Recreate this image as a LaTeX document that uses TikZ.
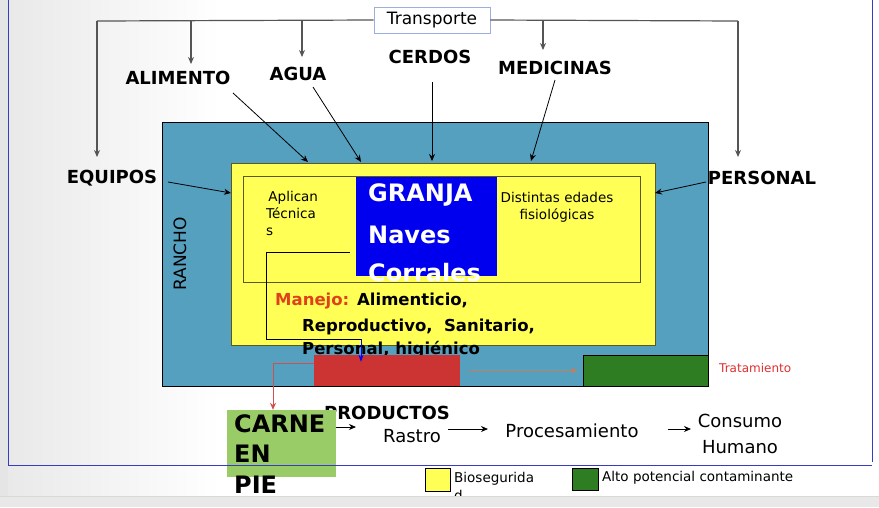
\documentclass[tikz,border=0pt]{standalone}
\usepackage{fontspec}
\setmainfont{DejaVu Sans}
\usetikzlibrary{arrows.meta}
\definecolor{ranchc}{HTML}{559FBF}
\definecolor{yelc}{HTML}{FFFF55}
\definecolor{olivec}{HTML}{5A5A20}
\definecolor{granjac}{HTML}{0000EE}
\definecolor{redc}{HTML}{CC3333}
\definecolor{greenc}{HTML}{2E7D22}
\definecolor{carnec}{HTML}{99CC66}
\definecolor{framec}{HTML}{3A3AC8}
\definecolor{manc}{HTML}{E0401A}
\definecolor{tratc}{HTML}{E03030}
\definecolor{brownc}{HTML}{C08060}
\definecolor{pinkc}{HTML}{D05050}
\definecolor{grayl}{HTML}{555555}
\begin{document}
\begin{tikzpicture}[x=1pt,y=-1pt,
  lbl/.style={font=\fontsize{18}{20}\selectfont\bfseries, inner sep=0pt},
  reg/.style={font=\fontsize{18}{22}\selectfont, inner sep=0pt},
  small/.style={font=\fontsize{13.5}{17}\selectfont, inner sep=0pt},
  big/.style={font=\fontsize{24}{30}\selectfont\bfseries, inner sep=0pt},
  man/.style={font=\fontsize{16.5}{20}\selectfont\bfseries, inner sep=0pt, anchor=base west},
  tip/.style={-{Stealth[length=7pt,width=6pt]}},
  gline/.style={draw=grayl, line width=1.2pt},
  garr/.style={gline, tip},
  karr/.style={draw=black, line width=0.8pt, tip},
  box/.style={draw=black, line width=0.8pt}
]
\useasboundingbox (0,0) rectangle (879,507);
% background
\fill[white] (0,0) rectangle (879,507);
\shade[left color=black!9, right color=white] (0,0) rectangle (220,496);
\fill[black!10] (0,0) rectangle (8,496);
% transport
\node[draw=cyan!40!blue!40, line width=0.8pt, fill=white, minimum width=116pt, minimum height=26pt, inner sep=0pt, font=\fontsize{17}{20}\selectfont] (tr) at (432,20) {Transporte};
\node[lbl] (alim) at (178,78) {ALIMENTO};
\node[lbl] (agua) at (298,74) {AGUA};
\node[lbl] (cerdos) at (430,57) {CERDOS};
\node[lbl] (medic) at (555,68) {MEDICINAS};
\node[lbl] (equip) at (112,178) {EQUIPOS};
\node[lbl] (perso) at (762,178) {PERSONAL};
\coordinate (tL) at (97,21);
\coordinate (tR) at (738,21);
\coordinate (tA) at (191,21);
\coordinate (tG) at (302,21);
\coordinate (tM) at (543,21);
\coordinate (eqT) at (97,157);
\coordinate (peT) at (738,157);
\coordinate (alT) at (191,64);
\coordinate (agT) at (302,57);
\coordinate (meT) at (543,50);
\draw[gline] (tr.west) -- (tL);
\draw[gline] (tr.east) -- (tR);
\draw[garr] (tL) -- (eqT);
\draw[garr] (tR) -- (peT);
\draw[garr] (tA) -- (alT);
\draw[garr] (tG) -- (agT);
\draw[garr] (tM) -- (meT);
% ranch
\node[box, fill=ranchc, minimum width=546pt, minimum height=264pt, inner sep=0pt] (ranch) at (435,254) {};
\node[reg, rotate=90, font=\fontsize{17}{20}\selectfont] (rancho) at (180,254) {RANCHO};
\node[draw=olivec, line width=0.8pt, fill=yelc, minimum width=424pt, minimum height=182pt, inner sep=0pt] (yel) at (443,254) {};
\node[draw=olivec, line width=1pt, minimum width=397pt, minimum height=106pt, inner sep=0pt] (inner) at (441.5,229) {};
\node[fill=granjac, minimum width=141pt, minimum height=99pt, inner sep=0pt] (granja) at (426.5,226.5) {};
\node[big, text=white, anchor=west] (g1) at (368,195) {GRANJA};
\node[big, text=white, anchor=west] (g2) at (368,235) {Naves};
\node[big, text=white, anchor=west] (g3) at (368,273) {Corrales};
\node[small, anchor=north west, align=left] (apl) at (266,191) {\,Aplican\\Técnica\\s};
\node[small, align=center] (dist) at (557,207) {Distintas edades\\fisiológicas};
% arrows into yellow
\coordinate (s1) at (233,93);
\coordinate (s2) at (313,87);
\coordinate (s3) at (432,82);
\coordinate (s4) at (555,80);
\coordinate (s5) at (168,182);
\coordinate (s6) at (706,182);
\coordinate (y1) at (308,162);
\coordinate (y2) at (361,162);
\coordinate (y3) at (432,161);
\coordinate (y4) at (531,161);
\coordinate (y5) at (231,193);
\coordinate (y6) at (655,193);
\draw[karr] (s1) -- (y1);
\draw[karr] (s2) -- (y2);
\draw[karr] (s3) -- (y3);
\draw[karr] (s4) -- (y4);
\draw[karr] (s5) -- (y5);
\draw[karr] (s6) -- (y6);
% manejo
\node[man, text=manc] (m1) at (275,305) {Manejo:};
\node[man] (m1b) at (357,305) {Alimenticio,};
\node[man] (m2) at (302,331) {Reproductivo,\ \ Sanitario,};
\node[man] (m3) at (302,354) {Personal, higiénico};
% red, green boxes
\node[fill=redc, minimum width=146pt, minimum height=31pt, inner sep=0pt] (red) at (387,370.5) {};
\node[box, fill=greenc, minimum width=125pt, minimum height=31pt, inner sep=0pt] (green) at (645.5,370.5) {};
\node[font=\fontsize{12}{14}\selectfont, text=tratc, inner sep=0pt, anchor=west] (trat) at (719,368) {Tratamiento};
\draw[draw=brownc, line width=1pt, tip] ([xshift=8pt]red.east) -- ([xshift=-5pt]green.west);
% black connector from granja to red
\coordinate (c1) at (350,252);
\coordinate (c2) at (266,252);
\coordinate (c3) at (266,339);
\coordinate (c4) at (361,339);
\draw[black, line width=0.8pt] (c1) -- (c2) -- (c3) -- (c4);
\draw[draw=blue, line width=0.8pt, -{Stealth[length=7pt,width=5pt]}] (c4) -- ([yshift=-7pt]c4 |- red.north);
% products
\node[lbl] (prod) at (387,413) {PRODUCTOS};
\node[fill=carnec, minimum width=109pt, minimum height=67pt, inner sep=0pt] (carne) at (281.5,443.5) {};
\node[big, anchor=north west, align=left, font=\fontsize{24}{30.5}\selectfont\bfseries] (carnet) at (234,414) {CARNE\\EN\\PIE};
\coordinate (r1) at (314,363);
\coordinate (r2) at (273,363);
\draw[draw=pinkc, line width=1pt, tip] (r1) -- (r2) -- (r2 |- carne.north);
\node[reg] (rastro) at (412,436) {Rastro};
\node[reg] (proc) at (572,431) {Procesamiento};
\node[reg, align=center, font=\fontsize{18}{26}\selectfont] (cons) at (740,434) {Consumo\\Humano};
\draw[karr] (carne.east |- 0,427) -- (356,427);
\draw[karr] (448,429) -- (488,429);
\draw[karr] (668,429) -- (691,429);
% frame lines
\draw[framec, line width=1pt] (8,0) -- (8,465) -- (872,465);
\draw[framec, line width=0.8pt] (872,0) -- (872,462);
% legend
\node[box, fill=yelc, minimum width=25pt, minimum height=23pt, inner sep=0pt] (ly) at (438,479.5) {};
\node[small, anchor=north west, align=left, font=\fontsize{13.5}{18}\selectfont] (lyt) at (454,472) {Biosegurida\\d};
\node[box, fill=greenc, minimum width=26pt, minimum height=22pt, inner sep=0pt] (lg) at (585,479) {};
\node[small, anchor=west] (lgt) at (602,478) {Alto potencial contaminante};
% bottom band
\fill[black!9] (0,496) rectangle (879,507);
\draw[black!15] (0,496) -- (879,496);
\end{tikzpicture}
\end{document}
